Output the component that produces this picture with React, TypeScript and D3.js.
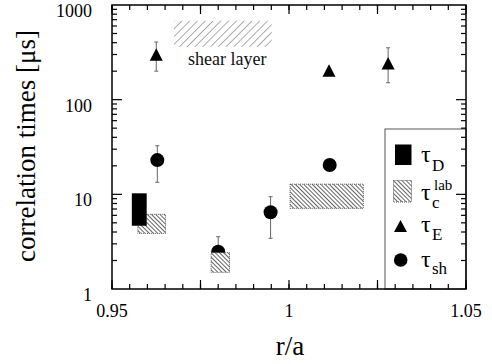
import React from "react";
import * as d3 from "d3";

// ---- data ----
const tauE_x = [0.9625, 1.0113, 1.028];
const tauE_y = [300, 203, 243];
const tauE_lo: (number | null)[] = [200, null, 151];
const tauE_hi: (number | null)[] = [406, null, 353];

const tauSh_x = [0.9628, 0.98, 0.9948, 1.0115];
const tauSh_y = [23, 2.48, 6.46, 20.4];
const tauSh_lo: (number | null)[] = [13.4, 1.75, 3.43, null];
const tauSh_hi: (number | null)[] = [32.6, 3.57, 9.44, null];

// boxes: [x0, x1, yLow, yHigh]
const tauD_boxes = [[0.9556, 0.9598, 4.66, 10.25]];
const tauC_boxes = [
  [0.9573, 0.9651, 3.87, 6.15],
  [0.978, 0.9832, 1.5, 2.42],
  [1.0003, 1.021, 7.11, 12.8],
];
const shearBox = [0.9675, 0.9951, 362, 681];

const xMajorTicks = [0.95, 0.975, 1.0, 1.025, 1.05];
const xTickLabels = [
  { v: 0.95, t: "0.95" },
  { v: 1.0, t: "1" },
  { v: 1.05, t: "1.05" },
];
const yTickLabels = [
  { v: 1, t: "1" },
  { v: 10, t: "10" },
  { v: 100, t: "100" },
  { v: 1000, t: "1000" },
];

const FONT = "Liberation Serif, Tinos, DejaVu Serif, Times New Roman, serif";

export default function App() {
  const L = 112, R = 466, T = 5, B = 289;
  const x = d3.scaleLinear().domain([0.95, 1.05]).range([L, R]);
  const y = d3.scaleLog().domain([1, 1000]).range([B, T]);

  const xMinor = d3.range(0, 21).map((i) => 0.95 + i * 0.005);
  const yMinor: number[] = [];
  for (let dec = 1; dec < 1000; dec *= 10) {
    for (let k = 2; k <= 9; k++) yMinor.push(dec * k);
  }
  const yMajor = [10, 100];

  const tri = (cx: number, cy: number, w = 13, h = 12.5) =>
    `M${cx},${cy - h / 2}L${cx + w / 2},${cy + h / 2}L${cx - w / 2},${cy + h / 2}Z`;

  const errColor = "#666";
  const ts = (size: number) => ({ fontFamily: FONT, fontSize: size + "px" });

  const errBar = (cx: number, lo: number | null, hi: number | null, key: string) => {
    if (lo == null || hi == null) return null;
    return (
      <g key={key} stroke={errColor} strokeWidth={1}>
        <line x1={cx} x2={cx} y1={y(hi)} y2={y(lo)} />
        <line x1={cx - 2} x2={cx + 2} y1={y(hi)} y2={y(hi)} />
        <line x1={cx - 2} x2={cx + 2} y1={y(lo)} y2={y(lo)} />
      </g>
    );
  };

  return (
    <svg width={492} height={364} style={{ position: "absolute", left: 0, top: 0, background: "#fff" }}>
      <defs>
        <pattern id="hatchC" patternUnits="userSpaceOnUse" width={3} height={3} patternTransform="rotate(-45)">
          <rect width={3} height={3} fill="#fff" />
          <line x1={0} y1={0} x2={0} y2={3} stroke="#111" strokeWidth={1.3} />
        </pattern>
        <pattern id="hatchS" patternUnits="userSpaceOnUse" width={5.5} height={5.5} patternTransform="rotate(45)">
          <line x1={0} y1={0} x2={0} y2={5.5} stroke="#444" strokeWidth={0.9} />
        </pattern>
      </defs>
      <rect x={0} y={0} width={492} height={364} fill="#fff" />

      {/* shear layer */}
      <rect
        x={x(shearBox[0])}
        y={y(shearBox[3])}
        width={x(shearBox[1]) - x(shearBox[0])}
        height={y(shearBox[2]) - y(shearBox[3])}
        fill="url(#hatchS)"
      />
      <text x={188} y={65} style={ts(18)} fill="#111">
        shear layer
      </text>

      {/* circles tau_sh */}
      {tauSh_x.map((v, i) => (
        <g key={"c" + i}>
          {errBar(x(v), tauSh_lo[i], tauSh_hi[i], "ec" + i)}
          <circle cx={x(v)} cy={y(tauSh_y[i])} r={7} fill="#000" />
        </g>
      ))}

      {/* tau_c lab boxes */}
      {tauC_boxes.map((b, i) => (
        <rect
          key={"tc" + i}
          x={x(b[0])}
          y={y(b[3])}
          width={x(b[1]) - x(b[0])}
          height={y(b[2]) - y(b[3])}
          fill="url(#hatchC)"
          stroke="#333"
          strokeWidth={0.8}
          strokeDasharray="1,1"
        />
      ))}

      {/* tau_D boxes */}
      {tauD_boxes.map((b, i) => (
        <rect
          key={"td" + i}
          x={x(b[0])}
          y={y(b[3])}
          width={x(b[1]) - x(b[0])}
          height={y(b[2]) - y(b[3])}
          fill="#000"
        />
      ))}

      {/* triangles tau_E */}
      {tauE_x.map((v, i) => (
        <g key={"t" + i}>
          {errBar(x(v), tauE_lo[i], tauE_hi[i], "et" + i)}
          <path d={tri(x(v), y(tauE_y[i]))} fill="#000" />
        </g>
      ))}

      {/* legend box */}
      <rect x={385} y={129} width={R - 385} height={B - 129} fill="#fff" stroke="#555" strokeWidth={1} />
      <rect x={395} y={144.5} width={16.5} height={20.5} fill="#000" />
      <text x={421} y={162} style={ts(24)} fill="#000">τ</text>
      <text x={432} y={171} style={ts(17)} fill="#000">D</text>

      <rect x={393.5} y={180.5} width={18} height={21.5} fill="url(#hatchC)" stroke="#333" strokeWidth={0.8} strokeDasharray="1,1" />
      <text x={421} y={200} style={ts(24)} fill="#000">τ</text>
      <text x={432} y={208} style={ts(17)} fill="#000">c</text>
      <text x={434} y={190} style={ts(15)} fill="#000">lab</text>

      <path d={tri(400.5, 226, 13, 12)} fill="#000" />
      <text x={421} y={232} style={ts(24)} fill="#000">τ</text>
      <text x={432} y={240} style={ts(17)} fill="#000">E</text>

      <circle cx={400.7} cy={260} r={6.8} fill="#000" />
      <text x={421} y={266.5} style={ts(24)} fill="#000">τ</text>
      <text x={432} y={273.5} style={ts(17)} fill="#000">sh</text>

      {/* frame */}
      <rect x={L} y={T} width={R - L} height={B - T} fill="none" stroke="#000" strokeWidth={1.5} />

      {/* ticks */}
      <g stroke="#000" strokeWidth={1.2}>
        {xMinor.map((v, i) => (
          <g key={"xm" + i}>
            <line x1={x(v)} x2={x(v)} y1={B} y2={B - 5} />
            <line x1={x(v)} x2={x(v)} y1={T} y2={T + 5} />
          </g>
        ))}
        {xMajorTicks.map((v, i) => (
          <g key={"xM" + i}>
            <line x1={x(v)} x2={x(v)} y1={B} y2={B - 9} />
            <line x1={x(v)} x2={x(v)} y1={T} y2={T + 9} />
          </g>
        ))}
        {yMinor.map((v, i) => (
          <g key={"ym" + i}>
            <line x1={L} x2={L + 5} y1={y(v)} y2={y(v)} />
            <line x1={R} x2={R - 5} y1={y(v)} y2={y(v)} />
          </g>
        ))}
        {yMajor.map((v, i) => (
          <g key={"yM" + i}>
            <line x1={L} x2={L + 10} y1={y(v)} y2={y(v)} />
            <line x1={R} x2={R - 10} y1={y(v)} y2={y(v)} />
          </g>
        ))}
      </g>

      {/* tick labels */}
      {xTickLabels.map((d, i) => (
        <text key={"xl" + i} x={x(d.v)} y={317} textAnchor="middle" style={ts(18)} fill="#000">
          {d.t}
        </text>
      ))}
      {yTickLabels.map((d, i) => (
        <text key={"yl" + i} x={92} y={y(d.v) + 12} textAnchor="end" style={ts(18)} fill="#000">
          {d.t}
        </text>
      ))}

      {/* axis titles */}
      <text x={290} y={355} textAnchor="middle" style={ts(27)} fill="#000">
        r/a
      </text>
      <text transform="translate(35,146) rotate(-90)" textAnchor="middle" style={ts(27)} fill="#000">
        correlation times [μs]
      </text>
    </svg>
  );
}
